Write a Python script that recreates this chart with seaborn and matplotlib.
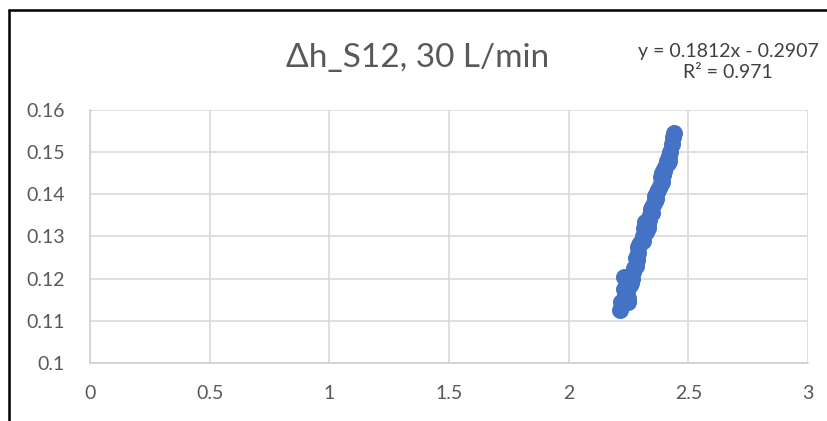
import matplotlib
matplotlib.use("Agg")
import matplotlib.pyplot as plt
import seaborn as sns
import pandas as pd
from matplotlib.lines import Line2D

# measured points (flow rate vs head loss)
x_vals = [2.215, 2.22, 2.225, 2.23, 2.235, 2.24, 2.245, 2.25, 2.255, 2.26,
          2.265, 2.27, 2.275, 2.28, 2.285, 2.29, 2.295, 2.30, 2.305, 2.31,
          2.315, 2.32, 2.325, 2.33, 2.335, 2.34, 2.345, 2.35, 2.355, 2.36,
          2.365, 2.37, 2.375, 2.38, 2.385, 2.39, 2.395, 2.40, 2.405, 2.41,
          2.415, 2.42, 2.425, 2.43, 2.435, 2.44, 2.25, 2.23, 2.29, 2.31,
          2.33, 2.36, 2.39, 2.42, 2.26, 2.28, 2.35, 2.40]
y_vals = [0.1125, 0.1145, 0.1140, 0.1205, 0.1160, 0.1150, 0.1170, 0.1145, 0.1185, 0.1190,
          0.1200, 0.1215, 0.1225, 0.1230, 0.1245, 0.1260, 0.1280, 0.1285, 0.1290, 0.1300,
          0.1320, 0.1335, 0.1310, 0.1320, 0.1340, 0.1350, 0.1365, 0.1370, 0.1380, 0.1395,
          0.1390, 0.1405, 0.1410, 0.1420, 0.1440, 0.1450, 0.1445, 0.1460, 0.1470, 0.1480,
          0.1475, 0.1490, 0.1500, 0.1520, 0.1535, 0.1545, 0.1155, 0.1175, 0.1275, 0.1290,
          0.1330, 0.1385, 0.1430, 0.1480, 0.1200, 0.1250, 0.1355, 0.1455]

x_ticks = [0, 0.5, 1, 1.5, 2, 2.5, 3]
y_ticks = [0.1, 0.11, 0.12, 0.13, 0.14, 0.15, 0.16]
x_labels = ["0", "0.5", "1", "1.5", "2", "2.5", "3"]
y_labels = ["0.1", "0.11", "0.12", "0.13", "0.14", "0.15", "0.16"]

title = "Δh_S12, 30 L/min"
equation = "y = 0.1812x - 0.2907\nR² = 0.971"

sns.set_theme(style="white")
plt.rcParams["font.family"] = ["Lato", "DejaVu Sans"]

df = pd.DataFrame({"Q": x_vals, "dh": y_vals})

fig = plt.figure(figsize=(8.27, 4.21), dpi=100)
ax = fig.add_axes([0.1088, 0.1378, 0.977 - 0.1088, 0.7387 - 0.1378])

sns.scatterplot(data=df, x="Q", y="dh", ax=ax, color="#4472C4",
                s=150, edgecolor="#4472C4", linewidth=0, zorder=3)

ax.set_xlim(0, 3)
ax.set_ylim(0.1, 0.16)
ax.set_xticks(x_ticks)
ax.set_xticklabels(x_labels)
ax.set_yticks(y_ticks)
ax.set_yticklabels(y_labels)
ax.tick_params(axis="both", labelsize=14, colors="#595959", length=0)
ax.tick_params(axis="x", pad=16)
ax.tick_params(axis="y", pad=18)
ax.grid(True, color="#D9D9D9", linewidth=1.2)
ax.set_axisbelow(True)
for side in ["top", "right"]:
    ax.spines[side].set_visible(False)
for side in ["left", "bottom"]:
    ax.spines[side].set_color("#D0D0D0")
    ax.spines[side].set_linewidth(1.2)
ax.set_xlabel("")
ax.set_ylabel("")

fig.text(418 / 827, 1 - 58 / 421, title, ha="center", va="center",
         fontsize=24, color="#595959")
fig.text(728 / 827, 1 - 62 / 421, equation, ha="center", va="center",
         fontsize=14, color="#404040", linespacing=1.3, multialignment="center")

# chart frame (partially visible)
fig.add_artist(Line2D([9 / 827, 9 / 827], [0, 1 - 10 / 421], transform=fig.transFigure,
                      color="black", linewidth=1.8))
fig.add_artist(Line2D([9 / 827, 1], [1 - 10 / 421, 1 - 10 / 421], transform=fig.transFigure,
                      color="black", linewidth=1.8))

fig.savefig("out.png", dpi=100)
